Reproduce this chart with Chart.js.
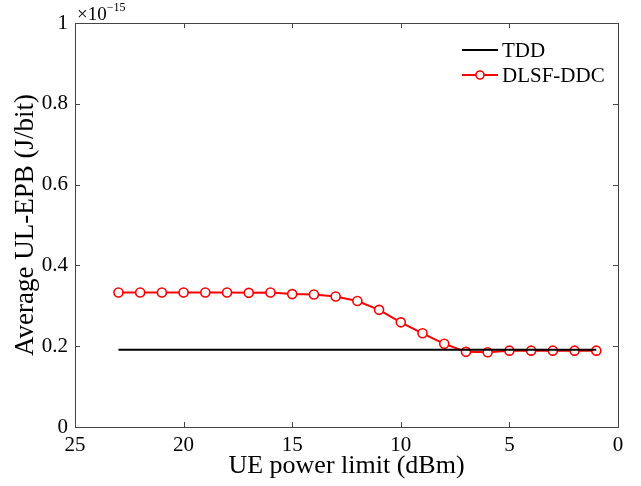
<!DOCTYPE html>
<html>
<head>
<meta charset="utf-8">
<script src="https://cdn.jsdelivr.net/npm/chart.js@4/dist/chart.umd.min.js"></script>
<style>
  body { margin: 0; background: #fff; }
  #wrap { width: 641px; height: 486px; }
</style>
</head>
<body>
<div id="wrap"><canvas id="canvas"></canvas></div>
<script>
// data (y values in units of 1e-15 J/bit)
var powerLimit = [23, 22, 21, 20, 19, 18, 17, 16, 15, 14, 13, 12, 11, 10, 9, 8, 7, 6, 5, 4, 3, 2, 1];
var dlsfDdc = [0.333, 0.333, 0.333, 0.333, 0.333, 0.333, 0.332, 0.333, 0.329, 0.328, 0.323, 0.312, 0.290,
               0.259, 0.232, 0.206, 0.186, 0.185, 0.189, 0.189, 0.189, 0.189, 0.189];
var tdd = [0.191, 0.191, 0.191, 0.191, 0.191, 0.191, 0.191, 0.191, 0.191, 0.191, 0.191, 0.191, 0.191,
           0.191, 0.191, 0.191, 0.191, 0.191, 0.191, 0.191, 0.191, 0.191, 0.191];
var xTicks = [0, 5, 10, 15, 20, 25];
var yTicks = [0, 0.2, 0.4, 0.6, 0.8, 1];
var seriesNames = ['TDD', 'DLSF-DDC'];

var serif = "'Liberation Serif', 'Times New Roman', serif";

function toPoints(xs, ys) {
    return xs.map(function (x, i) { return { x: x, y: ys[i] }; });
}

// box, inward ticks, exponent label, legend
var boxPlugin = {
    id: 'boxPlugin',
    afterDraw: function (chart) {
        var ctx = chart.ctx;
        var a = chart.chartArea;
        var xs = chart.scales.x, ys = chart.scales.y;
        ctx.save();
        ctx.strokeStyle = '#444';
        ctx.lineWidth = 1;
        ctx.strokeRect(a.left + 0.5, a.top + 0.5, a.right - a.left, a.bottom - a.top);
        ctx.beginPath();
        xTicks.forEach(function (v) {
            var px = Math.round(xs.getPixelForValue(v)) + 0.5;
            ctx.moveTo(px, a.bottom); ctx.lineTo(px, a.bottom - 5);
            ctx.moveTo(px, a.top); ctx.lineTo(px, a.top + 5);
        });
        yTicks.forEach(function (v) {
            var py = Math.round(ys.getPixelForValue(v)) + 0.5;
            ctx.moveTo(a.left, py); ctx.lineTo(a.left + 5, py);
            ctx.moveTo(a.right, py); ctx.lineTo(a.right - 5, py);
        });
        ctx.stroke();

        // x10^-15
        ctx.fillStyle = '#000';
        ctx.textBaseline = 'alphabetic';
        ctx.textAlign = 'left';
        ctx.font = '19px ' + serif;
        ctx.fillText('\u00d710', a.left + 2, a.top - 3);
        var w = ctx.measureText('\u00d710').width;
        ctx.font = '12px ' + serif;
        ctx.fillText('\u221215', a.left + 2 + w, a.top - 12);

        // legend
        var lx = 462, ly = [50, 75];
        ctx.font = '21px ' + serif;
        ctx.textBaseline = 'middle';
        ctx.lineWidth = 2;
        ctx.strokeStyle = '#000';
        ctx.beginPath(); ctx.moveTo(lx, ly[0]); ctx.lineTo(lx + 36, ly[0]); ctx.stroke();
        ctx.fillText(seriesNames[0], lx + 40, ly[0] + 1);
        ctx.strokeStyle = '#ff0000';
        ctx.beginPath(); ctx.moveTo(lx, ly[1]); ctx.lineTo(lx + 36, ly[1]); ctx.stroke();
        ctx.beginPath(); ctx.arc(lx + 18, ly[1], 4, 0, Math.PI * 2);
        ctx.fillStyle = '#fff'; ctx.fill();
        ctx.lineWidth = 1.6; ctx.stroke();
        ctx.fillStyle = '#000';
        ctx.fillText(seriesNames[1], lx + 40, ly[1] + 1);
        ctx.restore();
    }
};

var data = {
    datasets: [
        {
            label: seriesNames[0],
            data: toPoints(powerLimit, tdd),
            borderColor: '#000',
            borderWidth: 2,
            pointRadius: 0,
            tension: 0
        },
        {
            label: seriesNames[1],
            data: toPoints(powerLimit, dlsfDdc),
            borderColor: '#ff0000',
            backgroundColor: '#fff',
            borderWidth: 2,
            pointRadius: 4.5,
            pointBorderWidth: 1.6,
            pointBackgroundColor: '#fff',
            pointBorderColor: '#ff0000',
            tension: 0
        }
    ]
};

var config = {
    type: 'line',
    data: data,
    options: {
        responsive: true,
        maintainAspectRatio: false,
        animation: false,
        layout: { padding: { top: 23, right: 23, left: 0, bottom: 0 } },
        plugins: { legend: { display: false }, tooltip: { enabled: false } },
        scales: {
            x: {
                type: 'linear',
                reverse: true,
                min: 0,
                max: 25,
                grid: { display: false, drawTicks: false },
                border: { display: false },
                afterBuildTicks: function (s) { s.ticks = xTicks.map(function (v) { return { value: v }; }); },
                afterFit: function (s) { s.height = 59; },
                ticks: { color: '#000', padding: 6, maxRotation: 0, font: { family: serif, size: 21 } },
                title: { display: true, text: 'UE power limit (dBm)', color: '#000', padding: { top: 0, bottom: 4 }, font: { family: serif, size: 26 } }
            },
            y: {
                min: 0,
                max: 1,
                grid: { display: false, drawTicks: false },
                border: { display: false },
                afterBuildTicks: function (s) { s.ticks = yTicks.map(function (v) { return { value: v }; }); },
                afterFit: function (s) { s.width = 75; },
                ticks: { color: '#000', padding: 7, font: { family: serif, size: 21 },
                    callback: function (v) { return String(Math.round(v * 10) / 10); } },
                title: { display: true, text: 'Average UL-EPB (J/bit)', color: '#000', padding: { top: 10, bottom: 0 }, font: { family: serif, size: 27 } }
            }
        }
    },
    plugins: [boxPlugin]
};

var canvas = document.getElementById('canvas');
var chart = new Chart(canvas, config);
</script>
</body>
</html>
